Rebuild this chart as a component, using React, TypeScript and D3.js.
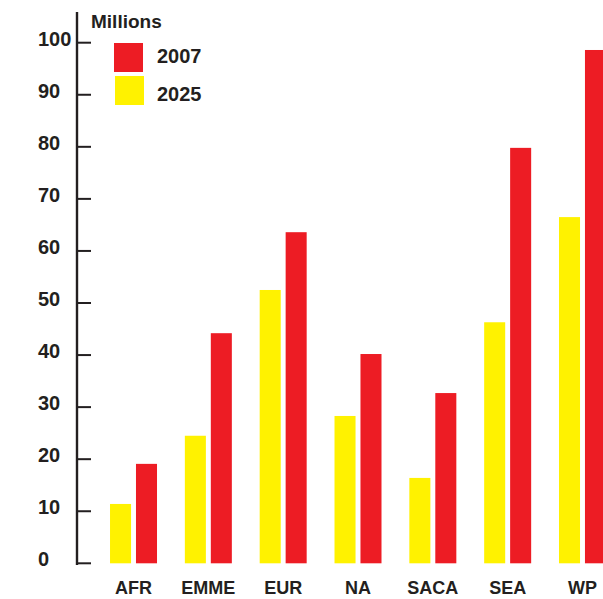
import * as d3 from "d3";
import React from "react";

const categories = ["AFR", "EMME", "EUR", "NA", "SACA", "SEA", "WP"];
const series = ["2025", "2007"];
const values2025 = [11.4, 24.5, 52.5, 28.3, 16.4, 46.3, 66.5];
const values2007 = [19.1, 44.2, 63.6, 40.2, 32.7, 79.8, 98.6];
const yTicks = [0, 10, 20, 30, 40, 50, 60, 70, 80, 90, 100];
const legendItems = [
  { key: "2007", color: "#ed1c24" },
  { key: "2025", color: "#fff200" },
];

const colors: Record<string, string> = { "2007": "#ed1c24", "2025": "#fff200" };
const ink = "#231f20";
const font = "'Liberation Sans', Arial, sans-serif";

export default function App() {
  const width = 603;
  const height = 599;
  const axisX = 77;

  const y = d3.scaleLinear().domain([0, 100]).range([563.3, 42.7]);

  // groups spaced ~74.8px, each group 47px wide
  const x = d3
    .scaleBand<string>()
    .domain(categories)
    .range([96.1, 96.1 + 7 * 74.83])
    .paddingInner(0.372)
    .paddingOuter(0.186);

  const xSub = d3
    .scaleBand<string>()
    .domain(series)
    .range([0, x.bandwidth()])
    .paddingInner(0.19);

  const valueOf = (s: string, i: number) => (s === "2025" ? values2025[i] : values2007[i]);

  return (
    <svg
      width={width}
      height={height}
      style={{ position: "absolute", left: 0, top: 0, background: "#fff" }}
      fontFamily={font}
      fontWeight="bold"
    >
      {/* bars */}
      {categories.map((c, i) => (
        <g key={c} transform={`translate(${x(c)},0)`}>
          {series.map((s) => (
            <rect
              key={s}
              x={xSub(s)}
              y={y(valueOf(s, i))}
              width={xSub.bandwidth()}
              height={y(0) - y(valueOf(s, i))}
              fill={colors[s]}
            />
          ))}
        </g>
      ))}

      {/* y axis */}
      <line x1={axisX} x2={axisX} y1={12} y2={565} stroke={ink} strokeWidth={2.4} />
      {yTicks.map((t) => (
        <g key={t}>
          <line x1={axisX} x2={axisX + 14} y1={y(t)} y2={y(t)} stroke={ink} strokeWidth={2} />
          <text x={38} y={y(t) + 3} fontSize={20} fill={ink}>
            {t}
          </text>
        </g>
      ))}
      <text x={91} y={28} fontSize={19} fill={ink}>
        Millions
      </text>

      {/* category labels */}
      {categories.map((c) => (
        <text
          key={c}
          x={(x(c) ?? 0) + x.bandwidth() / 2}
          y={594}
          fontSize={18}
          textAnchor="middle"
          fill={ink}
        >
          {c}
        </text>
      ))}

      {/* legend */}
      {legendItems.map((d, i) => (
        <g key={d.key} transform={`translate(${114 + i},${43 + i * 33})`}>
          <rect width={29} height={29} fill={d.color} />
          <text x={43 - i} y={20 + i * 5} fontSize={20} fill={ink}>
            {d.key}
          </text>
        </g>
      ))}
    </svg>
  );
}
